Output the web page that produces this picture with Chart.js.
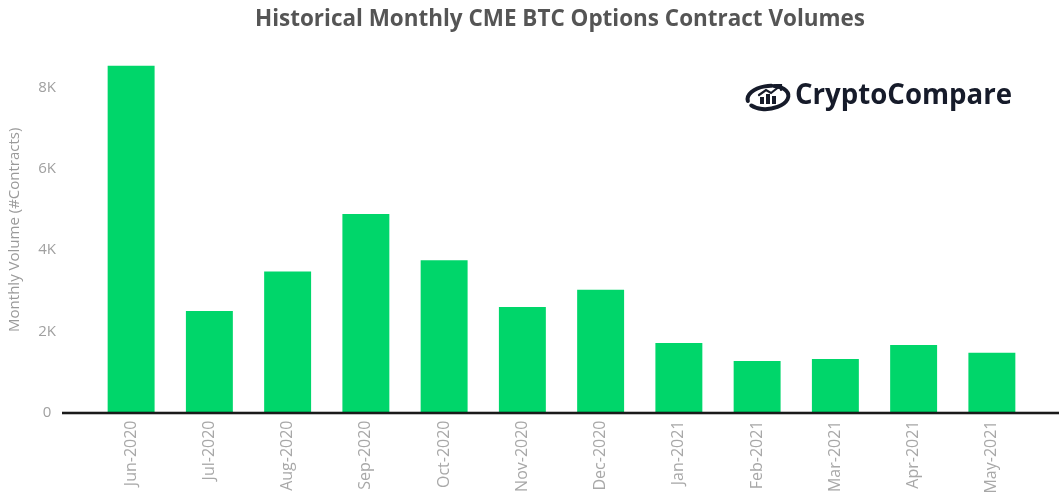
<!DOCTYPE html>
<html>
<head>
<meta charset="utf-8">
<script src="https://cdn.jsdelivr.net/npm/chart.js@4/dist/chart.umd.min.js"></script>
<style>
  html, body { margin: 0; padding: 0; background: #ffffff; }
  #wrap { width: 1059px; height: 502px; position: relative; }
</style>
</head>
<body>
<div id="wrap"><canvas id="c" width="1059" height="502"></canvas></div>
<script>
const categories = ["Jun-2020","Jul-2020","Aug-2020","Sep-2020","Oct-2020","Nov-2020","Dec-2020","Jan-2021","Feb-2021","Mar-2021","Apr-2021","May-2021"];
const volumes = [8540, 2500, 3470, 4890, 3750, 2600, 3020, 1710, 1270, 1320, 1660, 1470];
const yTickValues = [0, 2000, 4000, 6000, 8000];
const yTickLabels = ["0", "2K", "4K", "6K", "8K"];
const chartTitle = "Historical Monthly CME BTC Options Contract Volumes";
const yAxisTitle = "Monthly Volume (#Contracts)";
const logoText = "CryptoCompare";

const decorPlugin = {
  id: 'decor',
  afterDatasetsDraw(chart) {
    const ctx = chart.ctx;
    const y0 = chart.scales.y.getPixelForValue(0);
    ctx.save();
    ctx.strokeStyle = 'rgba(0,0,0,0.25)';
    ctx.lineWidth = 4;
    ctx.beginPath(); ctx.moveTo(62, y0 + 0.5); ctx.lineTo(1059, y0 + 0.5); ctx.stroke();
    ctx.strokeStyle = '#1a1a1a';
    ctx.lineWidth = 2;
    ctx.beginPath(); ctx.moveTo(62, y0 + 0.5); ctx.lineTo(1059, y0 + 0.5); ctx.stroke();
    ctx.restore();
  },
  afterDraw(chart) {
    const ctx = chart.ctx;
    ctx.save();
    // title
    ctx.fillStyle = '#555555';
    ctx.textAlign = 'center';
    ctx.textBaseline = 'middle';
    ctx.font = 'bold 24px "Open Sans", sans-serif';
    let w = ctx.measureText(chartTitle).width;
    const targetW = 610;
    ctx.save();
    ctx.translate(560, 19);
    ctx.scale(targetW / w, 1);
    ctx.fillText(chartTitle, 0, 0);
    ctx.restore();

    // logo text
    ctx.fillStyle = '#161b2a';
    ctx.textAlign = 'left';
    ctx.textBaseline = 'alphabetic';
    ctx.font = 'bold 28px "Open Sans", sans-serif';
    const lw = ctx.measureText(logoText).width;
    ctx.save();
    ctx.translate(795, 104);
    ctx.scale(217 / lw, 1);
    ctx.fillText(logoText, 0, 0);
    ctx.restore();

    // logo icon: ellipse with gaps
    ctx.strokeStyle = '#161b2a';
    ctx.lineWidth = 4;
    ctx.lineCap = 'round';
    ctx.beginPath();
    ctx.ellipse(768, 97.5, 20.5, 11.5, -0.12, -1.2, 2.6);
    ctx.stroke();
    ctx.beginPath();
    ctx.ellipse(768, 97.5, 20.5, 11.5, -0.12, 3.05, 4.95);
    ctx.stroke();
    ctx.fillStyle = '#161b2a';
    ctx.fillRect(760, 97, 4, 7);
    ctx.fillRect(766, 94, 4, 10);
    ctx.fillRect(772, 96, 4, 8);
    ctx.lineWidth = 2.2;
    ctx.beginPath();
    ctx.moveTo(759, 95); ctx.lineTo(766, 90); ctx.lineTo(771, 93); ctx.lineTo(780, 86);
    ctx.stroke();
    ctx.beginPath();
    ctx.moveTo(776, 85); ctx.lineTo(781, 85); ctx.lineTo(781, 90);
    ctx.stroke();
    ctx.restore();
  }
};

new Chart(document.getElementById('c'), {
  type: 'bar',
  data: {
    labels: categories,
    datasets: [{
      data: volumes,
      backgroundColor: '#00d66a',
      borderWidth: 0,
      barPercentage: 0.6,
      categoryPercentage: 1.0
    }]
  },
  options: {
    responsive: false,
    animation: false,
    devicePixelRatio: 1,
    layout: { padding: { top: 47, right: 28, left: 0, bottom: 0 } },
    plugins: {
      legend: { display: false },
      tooltip: { enabled: false },
      title: { display: false }
    },
    scales: {
      x: {
        grid: { display: false, drawTicks: false },
        border: { display: false },
        ticks: {
          minRotation: 90, maxRotation: 90,
          padding: 8,
          color: '#a8a8a8',
          font: { family: '"Open Sans", sans-serif', size: 16 }
        },
        afterFit(scale) { scale.height = 89.5; }
      },
      y: {
        min: 0, max: 9000,
        grid: { display: false, drawTicks: false },
        border: { display: false },
        afterBuildTicks(scale) {
          scale.ticks = yTickValues.map(v => ({ value: v }));
        },
        ticks: {
          crossAlign: 'center',
          padding: 36,
          color: '#a0a0a0',
          font: { family: '"Open Sans", sans-serif', size: 15 },
          callback(value) {
            const i = yTickValues.indexOf(value);
            return i >= 0 ? yTickLabels[i] : '';
          }
        },
        title: {
          display: true,
          text: yAxisTitle,
          color: '#9a9a9a',
          font: { family: '"Open Sans", sans-serif', size: 15 },
          padding: { top: 6, bottom: 0 }
        },
        afterFit(scale) { scale.width = 92; }
      }
    }
  },
  plugins: [decorPlugin]
});
</script>
</body>
</html>
